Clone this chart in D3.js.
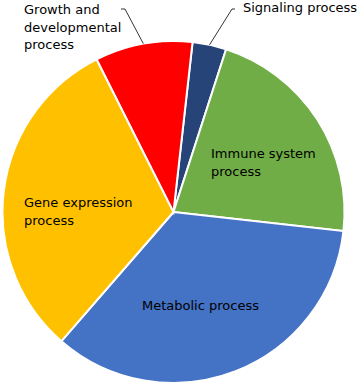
<!DOCTYPE html>
<html>
<head>
<meta charset="utf-8">
<script src="https://cdn.jsdelivr.net/npm/d3@7"></script>
<style>
  body { margin: 0; background: #fff; }
  svg text { font-family: "DejaVu Sans", Verdana, sans-serif; font-size: 13px; fill: #000; }
</style>
</head>
<body>
<div class="chart-container"></div>
<script>
// Data (percent of annotated genes)
const categories = ['Signaling process', 'Immune system process', 'Metabolic process', 'Gene expression process', 'Growth and developmental process'];
const values = [3.2, 21.8, 34.6, 31.2, 9.2];
const colors = ['#264478', '#70AD47', '#4472C4', '#FFC000', '#FF0000'];
const labelLines = [
    ['Signaling process'],
    ['Immune system', 'process'],
    ['Metabolic process'],
    ['Gene expression', 'process'],
    ['Growth and', 'developmental', 'process']
];

// Setup
const width = 358, height = 385;
const cx = 173.5, cy = 212, radius = 171;
const startAngle = 6.4 * Math.PI / 180;

const svg = d3.select('.chart-container')
    .append('svg')
    .attr('width', width)
    .attr('height', height);

const g = svg.append('g')
    .attr('transform', `translate(${cx},${cy})`);

const pie = d3.pie()
    .sort(null)
    .value(d => d.value)
    .startAngle(startAngle)
    .endAngle(startAngle + 2 * Math.PI);

const arc = d3.arc().innerRadius(0).outerRadius(radius);
const edgeArc = d3.arc().innerRadius(radius).outerRadius(radius);

const data = categories.map((c, i) => ({ name: c, value: values[i], color: colors[i], lines: labelLines[i] }));
const arcs = pie(data);

g.selectAll('.slice')
    .data(arcs)
    .enter()
    .append('path')
    .attr('class', 'slice')
    .attr('d', arc)
    .attr('fill', d => d.data.color)
    .attr('stroke', '#fff')
    .attr('stroke-width', 2);

// Label placement (inside labels at x/y, outside ones get a leader line)
const labelPos = {
    'Signaling process': { x: 243, y: 12, anchor: [235, 9], elbow: [232, 9] },
    'Immune system process': { x: 211, y: 158 },
    'Metabolic process': { x: 142, y: 310 },
    'Gene expression process': { x: 24, y: 207 },
    'Growth and developmental process': { x: 24, y: 14, anchor: [121, 9], elbow: [125, 9] }
};
const lineHeight = 17.5;

arcs.forEach(d => {
    const p = labelPos[d.data.name];
    if (p.anchor) {
        const end = edgeArc.centroid(d);
        svg.append('polyline')
            .attr('points', [p.anchor, p.elbow, [end[0] + cx, end[1] + cy]].map(q => q.join(',')).join(' '))
            .attr('fill', 'none')
            .attr('stroke', '#000')
            .attr('stroke-width', 0.8);
    }
    const t = svg.append('text').attr('x', p.x).attr('y', p.y);
    d.data.lines.forEach((l, i) => {
        t.append('tspan')
            .attr('x', p.x)
            .attr('y', p.y + i * lineHeight)
            .text(l);
    });
});
</script>
</body>
</html>
